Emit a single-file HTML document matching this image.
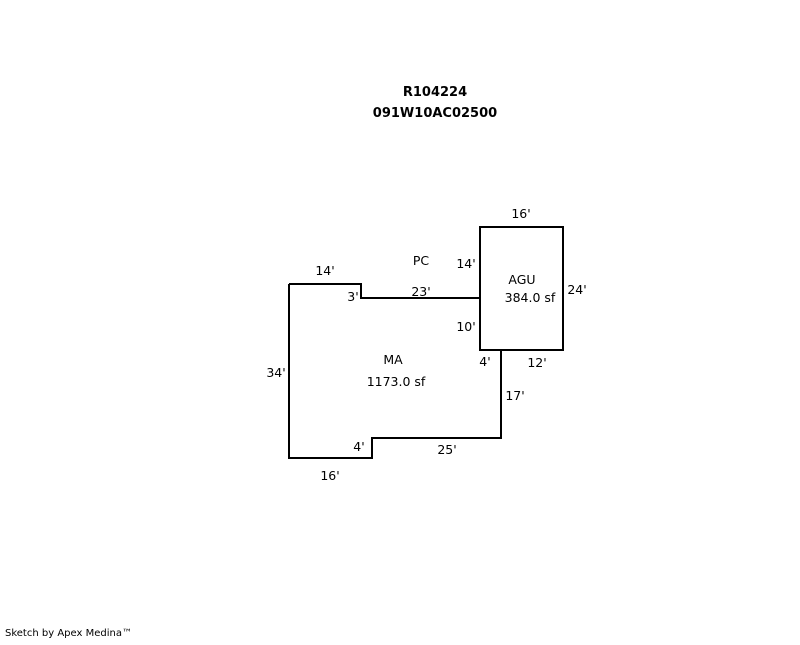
<!DOCTYPE html>
<html><head><style>
body{margin:0;background:#fff;}
svg text{font-family:"DejaVu Sans","Liberation Sans",sans-serif;font-size:12.5px;fill:#000;}
</style></head><body>
<svg width="800" height="640" xmlns="http://www.w3.org/2000/svg">
<g fill="none" stroke="#000" stroke-width="2">
<polyline points="289,284 361,284 361,298 480,298"/>
<polyline points="289,284 289,458 372,458 372,438 501,438 501,350"/>
<rect x="480" y="227" width="83" height="123"/>
</g>
<g text-anchor="middle">
<text x="435" y="96" style="font-weight:bold;font-size:13px">R104224</text>
<text x="435" y="117" style="font-weight:bold;font-size:13px">091W10AC02500</text>
<text x="521" y="218">16'</text>
<text x="325" y="275">14'</text>
<text x="421" y="265">PC</text>
<text x="466" y="268">14'</text>
<text x="522" y="284">AGU</text>
<text x="530" y="302">384.0 sf</text>
<text x="577" y="294">24'</text>
<text x="353" y="301">3'</text>
<text x="421" y="296">23'</text>
<text x="466" y="331">10'</text>
<text x="393" y="364">MA</text>
<text x="396" y="386">1173.0 sf</text>
<text x="485" y="366">4'</text>
<text x="537" y="367">12'</text>
<text x="276" y="377">34'</text>
<text x="515" y="400">17'</text>
<text x="359" y="451">4'</text>
<text x="447" y="454">25'</text>
<text x="330" y="480">16'</text>
</g>
<text x="5" y="636" style="font-size:10px">Sketch by Apex Medina™</text>
</svg>
</body></html>
